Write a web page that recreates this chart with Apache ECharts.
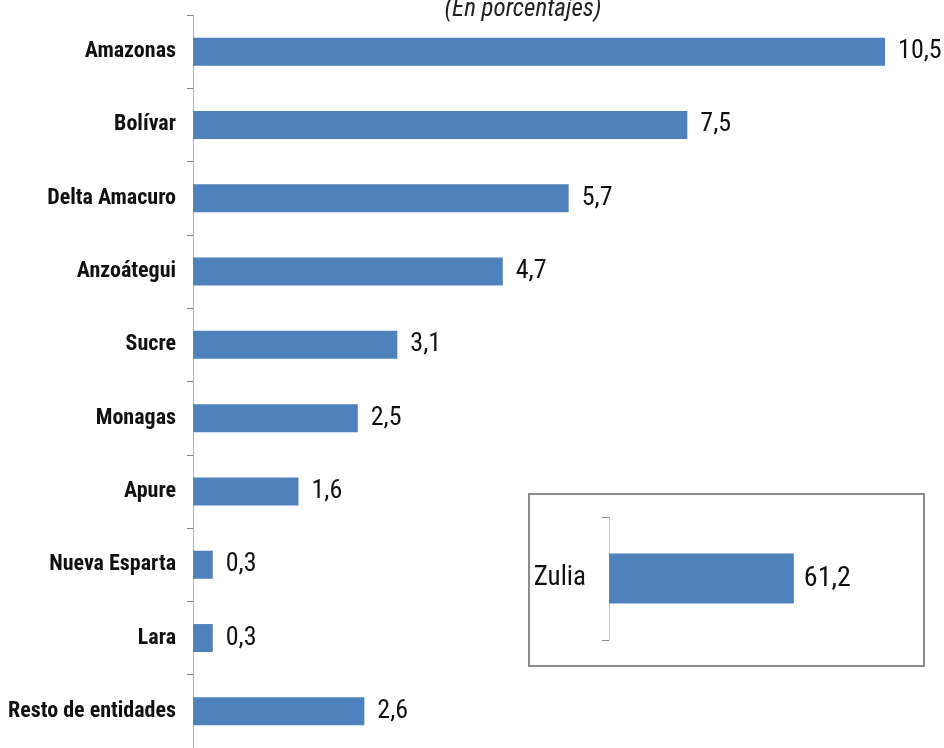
<!DOCTYPE html>
<html>
<head>
<meta charset="utf-8">
<script src="https://cdn.jsdelivr.net/npm/echarts@6/dist/echarts.min.js"></script>
<style>
html,body{margin:0;padding:0;background:#fff;}
#chart{width:944px;height:748px;}
</style>
</head>
<body>
<div id="chart"></div>
<script>
var titleText = '(En porcentajes)';
var categories = ['Amazonas','Bolívar','Delta Amacuro','Anzoátegui','Sucre','Monagas','Apure','Nueva Esparta','Lara','Resto de entidades'];
var values = [10.5, 7.5, 5.7, 4.7, 3.1, 2.5, 1.6, 0.3, 0.3, 2.6];
var insetCategories = ['Zulia'];
var insetValues = [61.2];

var FONT = '"Roboto Condensed", "DejaVu Sans Condensed", sans-serif';
var BLUE = '#4f81bd';
function fmt(v){ return v.toFixed(1).replace('.', ','); }

var chart = echarts.init(document.getElementById('chart'));
chart.setOption({
  animation: false,
  backgroundColor: '#ffffff',
  title: {
    text: titleText,
    left: 518, textAlign: 'center', top: -8,
    textStyle: {fontFamily: FONT, fontStyle: 'italic', fontWeight: 'normal', fontSize: 25, color: '#222'}
  },
  graphic: [{
    type: 'rect', left: 528, top: 493, z: 0,
    shape: {width: 395, height: 172},
    style: {fill: '#ffffff', stroke: '#8c8c8c', lineWidth: 2}
  }],
  grid: [
    {left: 193, top: 15, right: 26, bottom: -6, containLabel: false},
    {left: 609, top: 517, width: 302, height: 123, containLabel: false, z: 5}
  ],
  xAxis: [
    {gridIndex: 0, type: 'value', min: 0, max: 11, show: false},
    {gridIndex: 1, type: 'value', min: 0, max: 100, show: false}
  ],
  yAxis: [
    {
      gridIndex: 0, type: 'category', data: categories, inverse: true,
      axisLine: {show: true, lineStyle: {color: '#b0b0b0', width: 1}},
      axisTick: {show: true, length: 6, lineStyle: {color: '#8a8a8a'}},
      axisLabel: {fontFamily: FONT, fontWeight: 'bold', fontSize: 22, color: '#111', margin: 17},
      splitLine: {show: false}
    },
    {
      gridIndex: 1, type: 'category', data: insetCategories, inverse: true,
      axisLine: {show: true, lineStyle: {color: '#c8c8c8', width: 1}},
      axisTick: {show: true, length: 7, lineStyle: {color: '#8a8a8a'}},
      axisLabel: {fontFamily: FONT, fontSize: 27, color: '#111', margin: 23},
      splitLine: {show: false}
    }
  ],
  series: [
    {
      type: 'bar', xAxisIndex: 0, yAxisIndex: 0, data: values, barWidth: 28,
      itemStyle: {color: BLUE},
      label: {show: true, position: 'right', distance: 13, fontFamily: FONT, fontSize: 26, color: '#111',
        formatter: function(p){ return fmt(p.value); }}
    },
    {
      type: 'bar', xAxisIndex: 1, yAxisIndex: 1, data: insetValues, barWidth: 50, z: 6,
      itemStyle: {color: BLUE},
      label: {show: true, position: 'right', distance: 10, fontFamily: FONT, fontSize: 28, color: '#111',
        formatter: function(p){ return fmt(p.value); }}
    }
  ]
});
</script>
</body>
</html>
